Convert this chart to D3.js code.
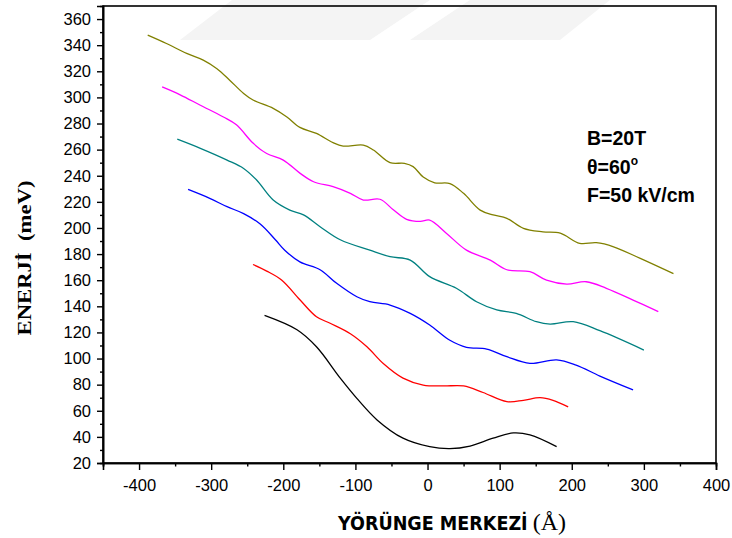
<!DOCTYPE html>
<html>
<head>
<meta charset="utf-8">
<script src="https://cdn.jsdelivr.net/npm/d3@7"></script>
<style>
  html, body { margin: 0; padding: 0; background: #fff; }
  svg { display: block; }
</style>
</head>
<body>
<svg id="chart" width="732" height="538"></svg>
<script>
// ---- data ----
const xTicks = [-400, -300, -200, -100, 0, 100, 200, 300, 400];
const yTicks = [20, 40, 60, 80, 100, 120, 140, 160, 180, 200, 220, 240, 260, 280, 300, 320, 340, 360];

const curveBlack = [[-226,133],[-181,122],[-154,109],[-121,85],[-98,69.5],[-70,53],[-34,39],[3,32.5],[31,31],[59,33],[91,39],[119,43],[142,41.5],[179,32.5]];
const curveRed = [[-242,172],[-223,167],[-202,160],[-177,145],[-154,132],[-135,127],[-107,119],[-84,109],[-61,96],[-34,85],[-6,79.7],[22,79],[50,79],[77,74],[110,67],[133,68],[156,70],[174,68],[195,63]];
const curveBlue = [[-332,229.5],[-302,222.7],[-278,216.3],[-255,211],[-232,203],[-211,191],[-198,183],[-177,174],[-149,168],[-126,157.6],[-98,147.3],[-80,143.5],[-52,141],[-24,134.6],[3,125.7],[31,114],[54,108.6],[82,107.3],[110,101.4],[142,96.3],[179,99],[206,95],[239,86.6],[285,76]];
const curveTeal = [[-347,268],[-315,261],[-278,252],[-255,245.6],[-237,236.7],[-214,221.4],[-191,213.7],[-172,210],[-149,201],[-121,191],[-80,183],[-52,178],[-24,175.4],[3,162.7],[40,153.8],[68,143.5],[96,137.2],[123,134.6],[151,128.2],[170,126.4],[202,128.2],[239,121.3],[300,106.5]];
const curveMagenta = [[-368,308],[-343,302],[-315,294],[-283,285],[-265,279],[-242,265],[-223,257],[-200,252],[-177,242],[-158,235.4],[-131,231.6],[-107,226.5],[-89,221.4],[-66,222],[-47,213.7],[-29,206.6],[-10,205],[3,206],[26,196],[54,183],[87,175.4],[110,168],[142,166.5],[165,160],[193,157],[220,158.8],[248,153.8],[285,144.8],[320,136]];
const curveOlive = [[-388,347.7],[-362,341.3],[-334,333.7],[-311,328.6],[-292,322],[-274,313],[-255,303],[-242,298],[-214,291.6],[-195,285],[-177,277],[-154,272.4],[-131,265.3],[-117,262.7],[-89,263.5],[-75,259.7],[-52,250],[-32,249.5],[-20,247],[-6,239],[10,234.6],[31,234],[50,226.5],[73,213.7],[91,210],[110,207.4],[133,199.7],[160,197],[184,196],[211,188.2],[234,188.7],[258,185.6],[295,176.7],[341,165]];

const seriesList = [
  { data: curveBlack, color: "#000000" },
  { data: curveRed, color: "#ff0000" },
  { data: curveBlue, color: "#0000ff" },
  { data: curveTeal, color: "#008080" },
  { data: curveMagenta, color: "#ff00ff" },
  { data: curveOlive, color: "#808000" }
];

const annotations = ["B=20T", "θ=60", "F=50 kV/cm"];

// ---- layout ----
const svg = d3.select("#chart");
const x = d3.scaleLinear().domain([-450, 400]).range([103, 716]);
const y = d3.scaleLinear().domain([20, 370]).range([463, 6]);

// faint watermark shapes
const wm = svg.append("g").attr("fill", "#f4f4f4");
wm.append("polygon").attr("points", "180,40 232,0 430,0 370,40");
wm.append("polygon").attr("points", "410,40 470,0 610,0 560,40");

// lines
const line = d3.line().x(d => x(d[0])).y(d => y(d[1])).curve(d3.curveCatmullRom.alpha(0.5));
svg.append("g").selectAll("path").data(seriesList).join("path")
  .attr("d", d => line(d.data))
  .attr("fill", "none")
  .attr("stroke", d => d.color)
  .attr("stroke-width", 1.3);

// frame
svg.append("rect")
  .attr("x", x(-450)).attr("y", y(370))
  .attr("width", x(400) - x(-450)).attr("height", y(20) - y(370))
  .attr("fill", "none").attr("stroke", "#000").attr("stroke-width", 1.6);

const tickFont = "'Liberation Sans', Arial, sans-serif";
const fmt = d => String(d);

// y axis
svg.append("g").attr("transform", `translate(${x(-450)},0)`)
  .call(d3.axisLeft(y).tickValues(yTicks).tickSize(6).tickPadding(6).tickFormat(fmt));
svg.append("g").attr("transform", `translate(${x(-450)},0)`)
  .call(d3.axisLeft(y).tickValues(d3.range(30, 361, 20)).tickSize(3).tickFormat(""));

// x axis
svg.append("g").attr("transform", `translate(0,${y(20)})`)
  .call(d3.axisBottom(x).tickValues(xTicks).tickSize(7).tickPadding(9).tickFormat(fmt));
svg.append("g").attr("transform", `translate(0,${y(20)})`)
  .call(d3.axisBottom(x).tickValues(d3.range(-450, 351, 100)).tickSize(3.5).tickFormat(""));

svg.selectAll(".domain").attr("stroke-width", 1.6);
svg.selectAll(".tick line").attr("stroke-width", 1.4);
svg.selectAll(".tick text")
  .attr("font-family", tickFont).attr("font-size", 16.5).attr("fill", "#000");

// y axis title
svg.append("text")
  .attr("transform", "translate(31,258) rotate(-90)")
  .attr("text-anchor", "middle")
  .attr("font-family", "'Liberation Serif', 'Times New Roman', serif")
  .attr("font-weight", "bold").attr("font-size", 19)
  .attr("textLength", 155).attr("lengthAdjust", "spacingAndGlyphs")
  .style("white-space", "pre")
  .text("ENERJİ  (meV)");

// x axis title (one text element with two font runs)
const xt = svg.append("text").attr("x", 338).attr("y", 530).attr("fill", "#000");
xt.append("tspan")
  .attr("font-family", "'DejaVu Sans Condensed', 'DejaVu Sans', sans-serif")
  .attr("font-stretch", "condensed")
  .attr("font-weight", "bold").attr("font-size", 19.5)
  .text("YÖRÜNGE MERKEZİ");
xt.append("tspan")
  .attr("dx", 5)
  .attr("font-family", "'Liberation Serif', 'Times New Roman', serif")
  .attr("font-size", 24)
  .text("(Å)");

// annotation
const ann = svg.append("g")
  .attr("font-family", tickFont).attr("font-weight", "bold").attr("font-size", 19.5).attr("fill", "#000");
ann.append("text").attr("x", 587).attr("y", 145).text(annotations[0]);
const t2 = ann.append("text").attr("x", 587).attr("y", 174).text(annotations[1]);
t2.append("tspan").attr("dy", -9).attr("font-size", 12).text("o");
ann.append("text").attr("x", 587).attr("y", 202).text(annotations[2]);
</script>
</body>
</html>
